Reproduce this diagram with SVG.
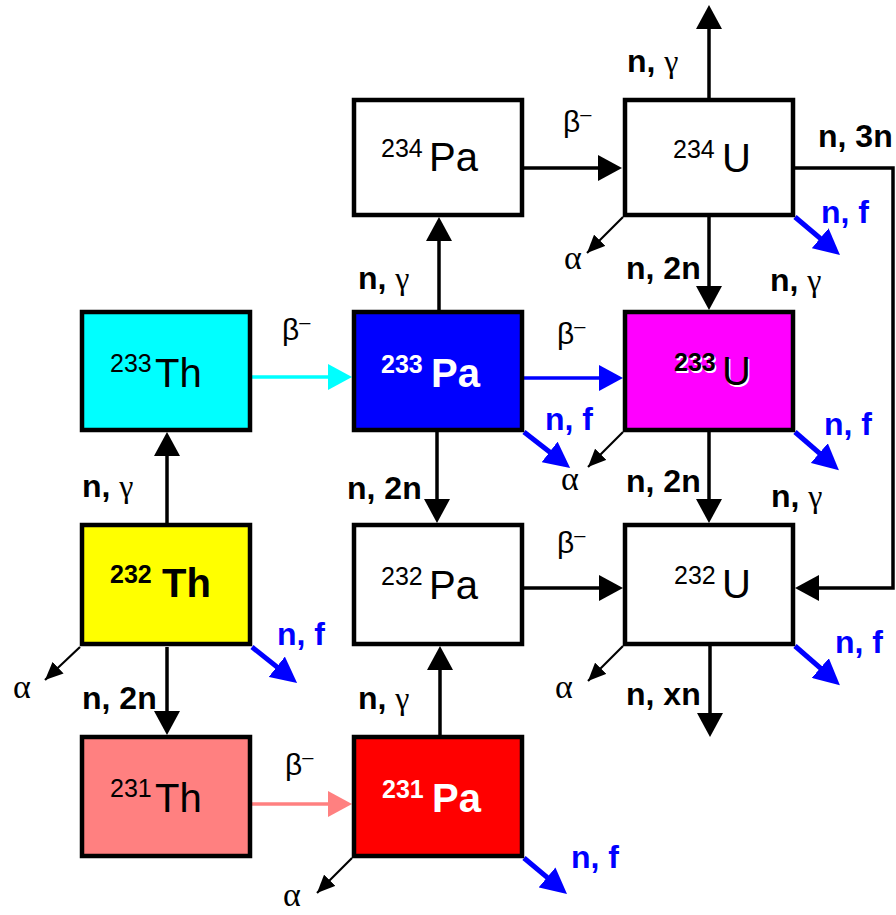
<svg xmlns="http://www.w3.org/2000/svg" width="896" height="915" viewBox="0 0 896 915">
<style>
.box{stroke:#000;stroke-width:4.5}
.sym{font-family:"Liberation Sans",Arial,sans-serif;font-size:40px}
.sup{font-family:"Liberation Sans",Arial,sans-serif;font-size:25px}
.b{font-weight:bold}
.lbl{font-family:"Liberation Sans",Arial,sans-serif;font-size:32px;font-weight:bold;fill:#000}
.nf{fill:#0000FF}
.g{font-family:"Liberation Serif","DejaVu Serif",serif;font-weight:normal;font-size:32px}
.gr{font-family:"Liberation Sans",Arial,sans-serif;font-size:30px;fill:#000}
.al2{font-family:"Liberation Serif","DejaVu Serif",serif;font-size:34px;fill:#000}
.ln{fill:none;stroke:#000;stroke-width:3.5}
.al{fill:none;stroke:#000;stroke-width:2.2}
.fl{fill:none;stroke:#0000FF;stroke-width:5}
</style>
<defs>
<marker id="ab" markerUnits="userSpaceOnUse" markerWidth="26" markerHeight="26" refX="18" refY="13" orient="auto"><path d="M0,0 L24,13 L0,26 Z" fill="#000"/></marker>
<marker id="ac" markerUnits="userSpaceOnUse" markerWidth="26" markerHeight="26" refX="18" refY="13" orient="auto"><path d="M0,0 L24,13 L0,26 Z" fill="#00FFFF"/></marker>
<marker id="abl" markerUnits="userSpaceOnUse" markerWidth="26" markerHeight="26" refX="18" refY="13" orient="auto"><path d="M0,0 L24,13 L0,26 Z" fill="#0000FF"/></marker>
<marker id="ap" markerUnits="userSpaceOnUse" markerWidth="26" markerHeight="26" refX="18" refY="13" orient="auto"><path d="M0,0 L24,13 L0,26 Z" fill="#FF8080"/></marker>
<marker id="as" markerUnits="userSpaceOnUse" markerWidth="18" markerHeight="16" refX="18" refY="8" orient="auto"><path d="M0,0 L18,8 L0,16 Z" fill="#000"/></marker>
<marker id="af" markerUnits="userSpaceOnUse" markerWidth="28" markerHeight="26" refX="20" refY="13" orient="auto"><path d="M0,0 L26,13 L0,26 Z" fill="#0000FF"/></marker>
</defs>
<rect width="896" height="915" fill="#fff"/>

<g id="connectors">
<line class="ln" x1="524" y1="168" x2="616" y2="168" marker-end="url(#ab)"/>
<line class="ln" x1="252" y1="377" x2="346" y2="377" style="stroke:#00FFFF" marker-end="url(#ac)"/>
<line class="ln" x1="524" y1="378" x2="617" y2="378" style="stroke:#0000FF" marker-end="url(#abl)"/>
<line class="ln" x1="524" y1="588" x2="617" y2="588" marker-end="url(#ab)"/>
<line class="ln" x1="252" y1="804" x2="346" y2="804" style="stroke:#FF8080" marker-end="url(#ap)"/>
<line class="ln" x1="709" y1="98" x2="709" y2="11" marker-end="url(#ab)"/>
<line class="ln" x1="709" y1="217" x2="709" y2="304" marker-end="url(#ab)"/>
<line class="ln" x1="439" y1="310" x2="439" y2="223" marker-end="url(#ab)"/>
<line class="ln" x1="709" y1="432" x2="709" y2="517" marker-end="url(#ab)"/>
<line class="ln" x1="437" y1="432" x2="437" y2="517" marker-end="url(#ab)"/>
<line class="ln" x1="167" y1="523" x2="167" y2="438" marker-end="url(#ab)"/>
<line class="ln" x1="167" y1="647" x2="167" y2="729" marker-end="url(#ab)"/>
<line class="ln" x1="440" y1="735" x2="440" y2="652" marker-end="url(#ab)"/>
<line class="ln" x1="710" y1="646" x2="710" y2="731" marker-end="url(#ab)"/>
<path class="ln" d="M795,168 H893 V588 H801" marker-end="url(#ab)"/>
<line class="al" x1="623" y1="217" x2="587" y2="253" marker-end="url(#as)"/>
<line class="al" x1="623" y1="432" x2="588" y2="467" marker-end="url(#as)"/>
<line class="al" x1="80" y1="647" x2="45" y2="680" marker-end="url(#as)"/>
<line class="al" x1="352" y1="858" x2="317" y2="893" marker-end="url(#as)"/>
<line class="al" x1="623" y1="646" x2="588" y2="681" marker-end="url(#as)"/>
<line class="fl" x1="795" y1="217" x2="835.4" y2="251.2" marker-end="url(#af)"/>
<line class="fl" x1="524" y1="432" x2="565.4" y2="464.2" marker-end="url(#af)"/>
<line class="fl" x1="795" y1="432" x2="834.4" y2="466.2" marker-end="url(#af)"/>
<line class="fl" x1="252" y1="647" x2="292.4" y2="679.2" marker-end="url(#af)"/>
<line class="fl" x1="524" y1="858" x2="562.4" y2="890.2" marker-end="url(#af)"/>
<line class="fl" x1="795" y1="646" x2="835.4" y2="681.2" marker-end="url(#af)"/>
</g>

<g id="labels">
<text class="gr" x="563" y="132">β<tspan font-size="20" dy="-11">–</tspan></text>
<text class="gr" x="282" y="340">β<tspan font-size="20" dy="-11">–</tspan></text>
<text class="gr" x="557" y="344">β<tspan font-size="20" dy="-11">–</tspan></text>
<text class="gr" x="557" y="553">β<tspan font-size="20" dy="-11">–</tspan></text>
<text class="gr" x="285" y="775">β<tspan font-size="20" dy="-11">–</tspan></text>

<text class="al2" x="564" y="269">α</text>
<text class="al2" x="561" y="490">α</text>
<text class="al2" x="13" y="698">α</text>
<text class="al2" x="283" y="906">α</text>
<text class="al2" x="555" y="698">α</text>

<text class="lbl" x="627" y="72">n, <tspan class="g">γ</tspan></text>
<text class="lbl" x="818" y="147">n, 3n</text>
<text class="lbl" x="358" y="289">n, <tspan class="g">γ</tspan></text>
<text class="lbl" x="626" y="279">n, 2n</text>
<text class="lbl" x="770" y="291">n, <tspan class="g">γ</tspan></text>
<text class="lbl" x="347" y="499">n, 2n</text>
<text class="lbl" x="626" y="492">n, 2n</text>
<text class="lbl" x="771" y="507">n, <tspan class="g">γ</tspan></text>
<text class="lbl" x="82" y="497">n, <tspan class="g">γ</tspan></text>
<text class="lbl" x="82" y="709">n, 2n</text>
<text class="lbl" x="358" y="709">n, <tspan class="g">γ</tspan></text>
<text class="lbl" x="626" y="705">n, xn</text>

<text class="lbl nf" x="821" y="223">n, f</text>
<text class="lbl nf" x="545" y="430">n, f</text>
<text class="lbl nf" x="824" y="435">n, f</text>
<text class="lbl nf" x="277" y="645">n, f</text>
<text class="lbl nf" x="571" y="868">n, f</text>
<text class="lbl nf" x="835" y="653">n, f</text>
</g>

<g id="pa234">
<rect class="box" x="354" y="100" width="168" height="115" fill="#fff"/>
<text class="sup" x="381" y="157">234</text><text class="sym" x="429" y="171">Pa</text>
</g>
<g id="u234">
<rect class="box" x="625" y="100" width="168" height="115" fill="#fff"/>
<text class="sup" x="673" y="158">234</text><text class="sym" x="722" y="172">U</text>
</g>
<g id="th233">
<rect class="box" x="82" y="312" width="168" height="118" fill="#00FFFF"/>
<text class="sup" x="110" y="372">233</text><text class="sym" x="155" y="387">Th</text>
</g>
<g id="pa233">
<rect class="box" x="354" y="312" width="168" height="118" fill="#0000FF"/>
<text class="sup b" x="381" y="373" fill="#fff">233</text><text class="sym b" x="431" y="387" fill="#fff">Pa</text>
</g>
<g id="u233">
<rect class="box" x="625" y="312" width="168" height="118" fill="#FF00FF"/>
<text class="sup b" x="675.5" y="372.5" fill="#fff">233</text><text class="sym" x="723.5" y="386.5" fill="#fff">U</text>
<text class="sup b" x="674" y="371" fill="#000">233</text><text class="sym" x="722" y="385" fill="#000">U</text>
</g>
<g id="th232">
<rect class="box" x="82" y="525" width="168" height="119" fill="#FFFF00"/>
<text class="sup b" x="110" y="583">232</text><text class="sym b" x="162" y="597">Th</text>
</g>
<g id="pa232">
<rect class="box" x="354" y="525" width="168" height="119" fill="#fff"/>
<text class="sup" x="381" y="585">232</text><text class="sym" x="429" y="599">Pa</text>
</g>
<g id="u232">
<rect class="box" x="625" y="525" width="168" height="119" fill="#fff"/>
<text class="sup" x="674" y="584">232</text><text class="sym" x="722" y="598">U</text>
</g>
<g id="th231">
<rect class="box" x="82" y="737" width="168" height="119" fill="#FF8080"/>
<text class="sup" x="110" y="797">231</text><text class="sym" x="155" y="812">Th</text>
</g>
<g id="pa231">
<rect class="box" x="354" y="737" width="168" height="119" fill="#FF0000"/>
<text class="sup b" x="382" y="798" fill="#fff">231</text><text class="sym b" x="432" y="812" fill="#fff">Pa</text>
</g>
</svg>
